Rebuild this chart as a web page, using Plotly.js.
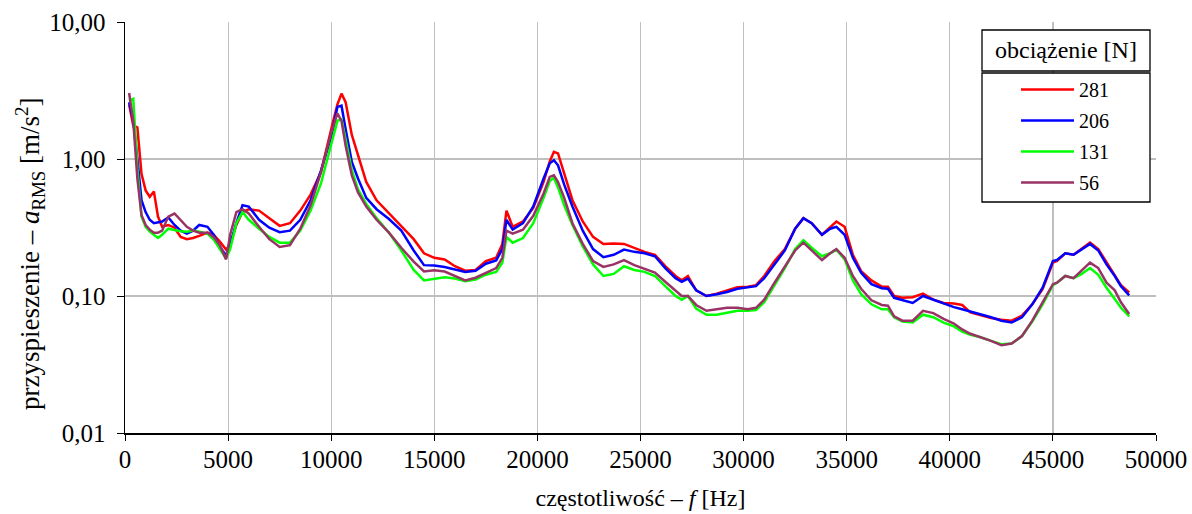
<!DOCTYPE html>
<html>
<head>
<meta charset="utf-8">
<script src="https://cdn.plot.ly/plotly-3.0.1.min.js"></script>
<style>html,body{margin:0;padding:0;background:#fff;}#chart{width:1192px;height:514px;}</style>
</head>
<body>
<div id="chart"></div>
<script>
// frequency [Hz]
const freq = [200,400,600,800,1000,1200,1400,1600,1800,2100,2400,2700,3000,3300,3600,4000,4300,4600,4900,5100,5400,5700,6000,6500,7000,7500,8000,8500,9000,9500,10000,10300,10500,10700,11000,11300,11700,12200,12800,13400,14000,14500,15000,15500,16000,16500,17000,17500,18000,18300,18500,18800,19300,19800,20300,20600,20800,21000,21300,21700,22200,22700,23200,23700,24200,24700,25200,25700,26200,26700,27000,27300,27700,28200,28700,29200,29700,30200,30600,31000,31500,32000,32500,32900,33300,33800,34200,34500,34900,35300,35700,36200,36700,37000,37300,37700,38200,38700,39200,39700,40200,40600,41000,41500,42000,42500,43000,43500,44000,44500,45000,45200,45600,46000,46400,46800,47200,47600,48000,48300,48700];

const load281 = [2.5,1.75,1.7,0.78,0.59,0.53,0.58,0.38,0.32,0.33,0.315,0.27,0.26,0.265,0.275,0.29,0.28,0.25,0.218,0.235,0.33,0.41,0.43,0.42,0.37,0.325,0.34,0.42,0.55,0.8,1.65,2.5,3.0,2.6,1.5,1.05,0.68,0.5,0.4,0.32,0.26,0.205,0.19,0.185,0.165,0.153,0.155,0.18,0.19,0.24,0.42,0.32,0.35,0.44,0.68,0.96,1.13,1.1,0.78,0.5,0.35,0.27,0.24,0.242,0.24,0.225,0.21,0.2,0.165,0.14,0.13,0.14,0.11,0.1,0.104,0.11,0.116,0.117,0.12,0.14,0.18,0.22,0.31,0.37,0.34,0.28,0.32,0.35,0.32,0.2,0.152,0.13,0.117,0.117,0.1,0.097,0.098,0.104,0.094,0.089,0.088,0.086,0.076,0.072,0.069,0.067,0.066,0.072,0.087,0.112,0.175,0.18,0.205,0.2,0.22,0.245,0.22,0.175,0.14,0.12,0.106];

const load206 = [2.6,1.9,1.0,0.5,0.41,0.36,0.34,0.345,0.35,0.375,0.33,0.3,0.285,0.3,0.33,0.32,0.28,0.23,0.197,0.24,0.34,0.46,0.45,0.36,0.315,0.292,0.3,0.36,0.5,0.82,1.45,2.4,2.45,1.65,0.95,0.72,0.52,0.43,0.365,0.3,0.215,0.168,0.167,0.163,0.156,0.15,0.153,0.172,0.182,0.22,0.36,0.305,0.34,0.45,0.72,0.93,0.98,0.9,0.65,0.45,0.3,0.22,0.192,0.2,0.218,0.21,0.205,0.195,0.16,0.135,0.127,0.134,0.11,0.1,0.103,0.107,0.113,0.115,0.118,0.135,0.172,0.215,0.31,0.37,0.34,0.28,0.31,0.32,0.28,0.19,0.148,0.122,0.114,0.113,0.097,0.093,0.089,0.1,0.094,0.088,0.083,0.08,0.077,0.074,0.07,0.066,0.064,0.07,0.087,0.115,0.18,0.183,0.205,0.2,0.22,0.24,0.215,0.17,0.14,0.118,0.101];

const load131 = [2.65,2.75,0.85,0.38,0.32,0.295,0.28,0.265,0.28,0.31,0.303,0.297,0.295,0.3,0.295,0.285,0.258,0.218,0.188,0.22,0.34,0.41,0.36,0.31,0.27,0.245,0.245,0.3,0.42,0.66,1.3,1.9,1.95,1.35,0.83,0.6,0.47,0.37,0.29,0.215,0.155,0.13,0.133,0.137,0.134,0.128,0.132,0.143,0.15,0.175,0.27,0.245,0.265,0.34,0.52,0.69,0.73,0.62,0.46,0.33,0.23,0.17,0.14,0.145,0.165,0.155,0.15,0.14,0.118,0.1,0.094,0.1,0.081,0.073,0.073,0.075,0.078,0.078,0.079,0.09,0.12,0.16,0.22,0.255,0.225,0.195,0.205,0.218,0.185,0.13,0.103,0.087,0.08,0.08,0.07,0.065,0.064,0.073,0.07,0.064,0.06,0.055,0.052,0.05,0.047,0.0445,0.045,0.051,0.065,0.087,0.12,0.125,0.14,0.135,0.145,0.16,0.143,0.115,0.095,0.082,0.071];

const load56 = [3.03,1.9,0.72,0.39,0.33,0.305,0.29,0.29,0.3,0.38,0.4,0.36,0.32,0.3,0.29,0.29,0.27,0.235,0.185,0.28,0.41,0.43,0.4,0.32,0.26,0.228,0.235,0.31,0.46,0.8,1.55,2.15,1.9,1.25,0.76,0.57,0.45,0.36,0.29,0.225,0.178,0.151,0.154,0.151,0.14,0.13,0.136,0.148,0.16,0.19,0.3,0.285,0.305,0.385,0.56,0.74,0.76,0.68,0.52,0.34,0.24,0.18,0.163,0.17,0.183,0.168,0.157,0.148,0.127,0.11,0.1,0.1,0.086,0.078,0.08,0.082,0.082,0.08,0.082,0.094,0.125,0.165,0.215,0.245,0.215,0.183,0.205,0.22,0.19,0.14,0.113,0.093,0.086,0.085,0.071,0.066,0.066,0.078,0.075,0.068,0.063,0.057,0.053,0.05,0.047,0.0438,0.045,0.051,0.066,0.09,0.122,0.125,0.14,0.135,0.155,0.175,0.16,0.125,0.11,0.09,0.074];

const seriesNames = ['281','206','131','56'];
const seriesData = [load281, load206, load131, load56];
const seriesColors = ['#FF0000','#0000FF','#00FF00','#993366'];

const yTickVals = [0.01, 0.1, 1, 10];
const yTickText = ['0,01','0,10','1,00','10,00'];
const xTickVals = [0,5000,10000,15000,20000,25000,30000,35000,40000,45000,50000];
const xTickText = ['0','5000','10000','15000','20000','25000','30000','35000','40000','45000','50000'];

const FONT = 'Liberation Serif, Times New Roman, serif';

const traces = seriesNames.map((n, i) => ({
  x: freq, y: seriesData[i], name: n, type: 'scatter', mode: 'lines',
  line: {color: seriesColors[i], width: 2.5},
  legendgroup: 'g' + i
}));

// plot area in px
const W = 1192, H = 514, L = 125, R = 1156, T = 22, B = 433;
const px2x = p => (p - L) / (R - L);
const py2y = p => (B - p) / (B - T);

const layout = {
  width: W, height: H,
  margin: {l: L, r: W - R, t: T, b: H - B},
  paper_bgcolor: '#fff', plot_bgcolor: '#fff',
  font: {family: FONT, size: 24, color: '#000'},
  showlegend: true,
  legend: {
    x: px2x(1016), y: py2y(70), xanchor: 'left', yanchor: 'top',
    bgcolor: 'rgba(0,0,0,0)', borderwidth: 0, itemwidth: 53,
    font: {family: FONT, size: 20, color: '#000'},
    tracegroupgap: 2, traceorder: 'grouped'
  },
  xaxis: {
    range: [0, 50000], tickvals: xTickVals, ticktext: xTickText,
    showgrid: true, gridcolor: '#BFBFBF', gridwidth: 1.2,
    showline: true, linecolor: '#000', linewidth: 1.5,
    ticks: 'outside', ticklen: 6, tickcolor: '#000', zeroline: false,
    ticklabelstandoff: -3,
    tickfont: {family: FONT, size: 25},
    title: {text: 'częstotliwość – <i>f</i> [Hz]', font: {family: FONT, size: 24}, standoff: 17}
  },
  yaxis: {
    type: 'log', range: [-2, 1], tickvals: yTickVals, ticktext: yTickText,
    showgrid: true, gridcolor: '#BFBFBF', gridwidth: 1.2,
    showline: true, linecolor: '#000', linewidth: 1.5,
    ticks: 'outside', ticklen: 7, tickcolor: '#000', zeroline: false,
    ticklabelstandoff: 6,
    tickfont: {family: FONT, size: 25}
  },
  shapes: [
    {type: 'rect', xref: 'paper', yref: 'paper', x0: px2x(982), x1: px2x(1150), y0: py2y(71), y1: py2y(30),
     line: {color: '#000', width: 1.3}, fillcolor: '#fff', layer: 'above'},
    {type: 'rect', xref: 'paper', yref: 'paper', x0: px2x(982), x1: px2x(1150), y0: py2y(202), y1: py2y(73),
     line: {color: '#000', width: 1.3}, fillcolor: '#fff', layer: 'above'}
  ],
  annotations: [
    {xref: 'paper', yref: 'paper', x: px2x(1066), y: py2y(50.5), xanchor: 'center', yanchor: 'middle',
     text: 'obciążenie [N]', showarrow: false, font: {family: FONT, size: 24, color: '#000'}},
    {xref: 'paper', yref: 'paper', x: px2x(30), y: py2y(254), xanchor: 'center', yanchor: 'middle',
     textangle: -90, showarrow: false,
     text: 'przyspieszenie – <i>a</i><sub>RMS</sub> [m/s<sup>2</sup>]', font: {family: FONT, size: 27, color: '#000'}}
  ]
};

Plotly.newPlot('chart', traces, layout, {displayModeBar: false, staticPlot: true});
</script>
</body>
</html>
